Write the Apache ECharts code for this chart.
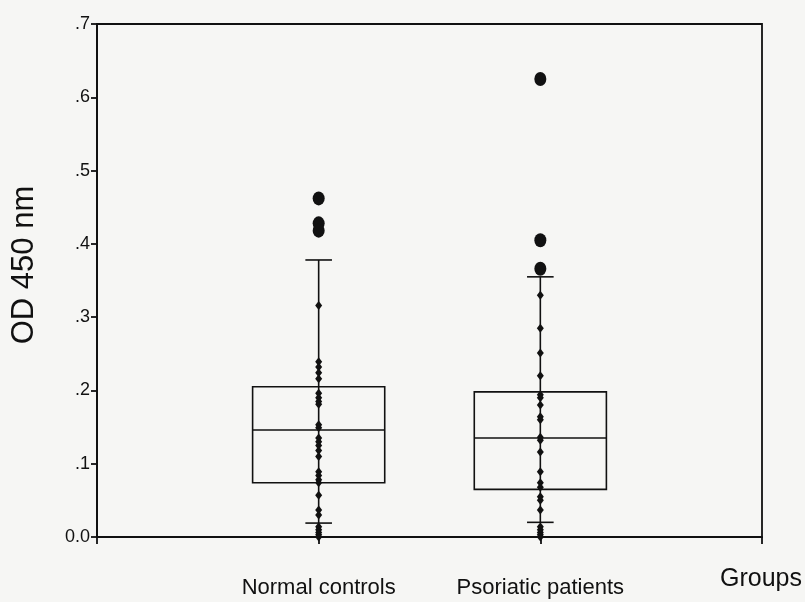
<!DOCTYPE html>
<html>
<head>
<meta charset="utf-8">
<title>OD 450 nm by group</title>
<script src="https://cdn.jsdelivr.net/npm/echarts@6/dist/echarts.min.js"></script>
<style>
  html, body { margin: 0; padding: 0; background: #f6f6f4; }
  #chart { width: 805px; height: 602px; }
</style>
</head>
<body>
<div id="chart"></div>
<script>
// Category slots: empty slots at both ends give the two groups even spacing
const categories = ['', 'Normal controls', 'Psoriatic patients', ''];
const groups = ['Normal controls', 'Psoriatic patients'];

// Box summaries per group
const whiskerLow = [0.019, 0.020];
const quartile1 = [0.074, 0.065];
const medians = [0.146, 0.135];
const quartile3 = [0.205, 0.198];
const whiskerHigh = [0.378, 0.355];

// Individual measurements
const normalPoints = [0.316, 0.239, 0.232, 0.224, 0.216, 0.196, 0.190, 0.185, 0.181,
  0.153, 0.149, 0.135, 0.130, 0.125, 0.118, 0.110, 0.089, 0.084, 0.078, 0.074,
  0.057, 0.037, 0.030, 0.014, 0.010, 0.006, 0.003, 0.000];
const psoriaticPoints = [0.330, 0.285, 0.251, 0.220, 0.194, 0.190, 0.180, 0.164, 0.160,
  0.136, 0.132, 0.116, 0.089, 0.074, 0.068, 0.055, 0.050, 0.037, 0.014, 0.010,
  0.006, 0.003, 0.000];

// Outliers beyond the whiskers
const normalOutliers = [0.462, 0.428, 0.418];
const psoriaticOutliers = [0.625, 0.405, 0.366];

// Y tick labels
const yTickLabels = ['0.0', '.1', '.2', '.3', '.4', '.5', '.6', '.7'];

const boxData = groups.map((g, i) => [g, whiskerLow[i], quartile1[i], medians[i], quartile3[i], whiskerHigh[i]]);
const pointData = normalPoints.map(v => [groups[0], v]).concat(psoriaticPoints.map(v => [groups[1], v]));
const outlierData = normalOutliers.map(v => [groups[0], v]).concat(psoriaticOutliers.map(v => [groups[1], v]));

const ink = '#111';
const chart = echarts.init(document.getElementById('chart'), null, { renderer: 'canvas' });

chart.setOption({
  backgroundColor: '#f6f6f4',
  animation: false,
  grid: {
    left: 97, right: 43, top: 24, bottom: 65,
    show: true, borderColor: ink, borderWidth: 1.8, backgroundColor: 'transparent'
  },
  xAxis: {
    type: 'category',
    data: categories,
    boundaryGap: false,
    axisLine: { lineStyle: { color: ink, width: 2 } },
    axisTick: { show: true, length: 7, lineStyle: { color: ink, width: 1.8 } },
    axisLabel: {
      color: ink, fontFamily: 'Liberation Sans, Arial, sans-serif', fontSize: 22,
      margin: 40, interval: 0
    },
    splitLine: { show: false },
    name: 'Groups',
    nameLocation: 'end',
    nameGap: -42,
    nameTextStyle: {
      color: ink, fontFamily: 'Liberation Sans, Arial, sans-serif', fontSize: 25,
      align: 'left', verticalAlign: 'top', padding: [30, 0, 0, 0]
    }
  },
  yAxis: {
    type: 'value',
    min: 0, max: 0.7, interval: 0.1,
    axisLine: { show: true, lineStyle: { color: ink, width: 2 } },
    axisTick: { show: true, length: 6, lineStyle: { color: ink, width: 1.8 } },
    axisLabel: {
      color: ink, fontFamily: 'Liberation Sans, Arial, sans-serif', fontSize: 18, margin: 7,
      formatter: (v, i) => yTickLabels[i]
    },
    splitLine: { show: false }
  },
  graphic: [{
    type: 'text',
    x: 24, y: 265,
    rotation: Math.PI / 2,
    style: {
      text: 'OD 450 nm', fill: ink,
      font: '31px "Liberation Sans", Arial, sans-serif',
      textAlign: 'center', textVerticalAlign: 'middle'
    }
  }],
  series: [
    {
      type: 'custom',
      data: boxData,
      clip: false,
      renderItem: function (params, api) {
        const x = api.value(0);
        const low = api.coord([x, api.value(1)]);
        const q1 = api.coord([x, api.value(2)]);
        const med = api.coord([x, api.value(3)]);
        const q3 = api.coord([x, api.value(4)]);
        const high = api.coord([x, api.value(5)]);
        const band = api.size([1, 0])[0];
        const halfBox = band * 0.298;
        const halfCap = band * 0.06;
        const cx = low[0];
        const stroke = { stroke: ink, lineWidth: 1.6, fill: null };
        return {
          type: 'group',
          children: [
            { type: 'line', shape: { x1: cx, y1: low[1], x2: cx, y2: high[1] }, style: stroke },
            { type: 'line', shape: { x1: cx - halfCap, y1: high[1], x2: cx + halfCap, y2: high[1] }, style: stroke },
            { type: 'line', shape: { x1: cx - halfCap, y1: low[1], x2: cx + halfCap, y2: low[1] }, style: stroke },
            { type: 'rect', shape: { x: cx - halfBox, y: q3[1], width: halfBox * 2, height: q1[1] - q3[1] }, style: stroke },
            { type: 'line', shape: { x1: cx - halfBox, y1: med[1], x2: cx + halfBox, y2: med[1] }, style: stroke }
          ]
        };
      },
      z: 2
    },
    {
      type: 'scatter',
      data: pointData,
      symbol: 'diamond',
      symbolSize: [7, 9],
      clip: false,
      itemStyle: { color: ink, opacity: 1 },
      z: 3
    },
    {
      type: 'scatter',
      data: outlierData,
      symbol: 'circle',
      symbolSize: [12, 14],
      clip: false,
      itemStyle: { color: ink, opacity: 1 },
      z: 3
    }
  ]
});
</script>
</body>
</html>
